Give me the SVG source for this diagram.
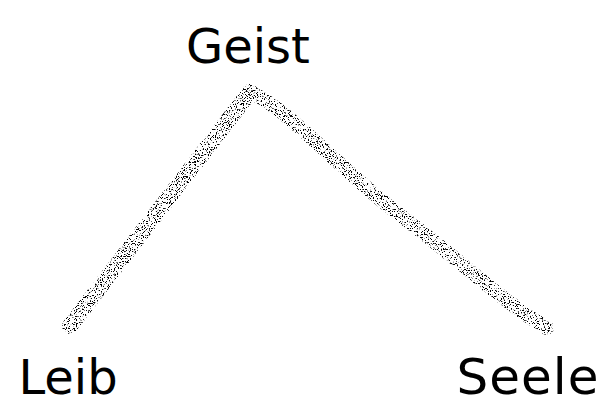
<svg xmlns="http://www.w3.org/2000/svg" width="604" height="407" viewBox="0 0 604 407">
<style>
  .lbl { font-family: "DejaVu Sans", "Liberation Sans", sans-serif; fill: #000; }
  .chalk { fill: none; stroke: #000; stroke-linecap: round; stroke-linejoin: round; filter: url(#chalk); }
</style>
<defs>
  <filter id="chalk" x="-5%" y="-5%" width="110%" height="110%" filterUnits="objectBoundingBox">
    <feTurbulence type="fractalNoise" baseFrequency="0.85" numOctaves="2" seed="7" result="n"/>
    <feColorMatrix in="n" type="matrix" values="0 0 0 0 0  0 0 0 0 0  0 0 0 0 0  14 0 0 0 -7.9" result="m"/>
    <feComposite in="SourceGraphic" in2="m" operator="in"/>
  </filter>
</defs>
<rect width="604" height="407" fill="#fff"/>
<g id="connectors">
  <path class="chalk" stroke-width="16" d="M70 326 C 120 260, 190 170, 250 92"/>
  <path class="chalk" stroke-width="14" d="M250 92 C 290 110, 340 170, 400 215 S 500 300, 547 328"/>
</g>
<g id="geist"><text class="lbl" x="248" y="63" font-size="48" text-anchor="middle">Geist</text></g>
<g id="leib"><text class="lbl" x="68" y="394" font-size="48" text-anchor="middle">Leib</text></g>
<g id="seele"><text class="lbl" x="528" y="394" font-size="50" text-anchor="middle" letter-spacing="1">Seele</text></g>
</svg>
